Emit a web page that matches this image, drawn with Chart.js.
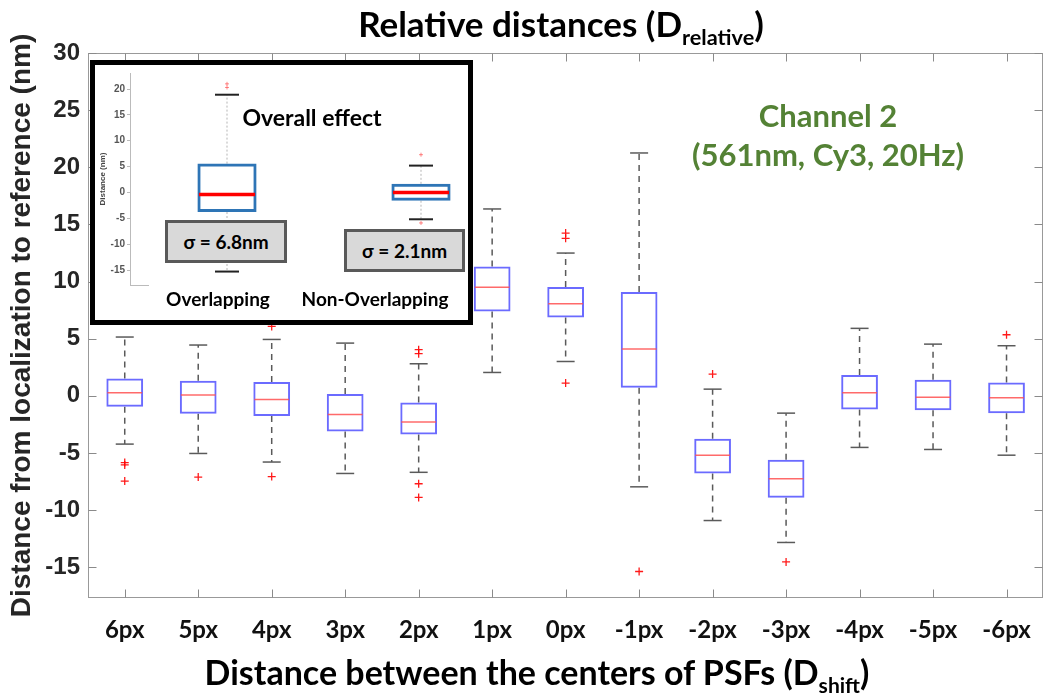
<!DOCTYPE html>
<html><head><meta charset="utf-8">
<script src="https://cdn.jsdelivr.net/npm/chart.js@4.4.1/dist/chart.umd.min.js"></script>
<style>
html,body{margin:0;padding:0;background:#fff;}
#wrap{position:relative;width:1049px;height:694px;overflow:hidden;background:#fff;}
#main{position:absolute;left:0;top:0;}
.txt{position:absolute;font-family:Lato,'Open Sans',sans-serif;font-weight:700;white-space:nowrap;transform:translate(-50%,-50%);line-height:1;color:#000;}
.txt sub{font-size:0.62em;vertical-align:-0.4em;line-height:0;}
#title{left:561px;top:23px;font-size:35px;}
#xtitle{left:537px;top:672px;font-size:34px;}
.green{color:#548235;font-size:31px;}
#inset{position:absolute;left:90px;top:60px;width:373px;height:255px;border:5px solid #000;background:#fff;overflow:hidden;}
#insetCanvas{position:absolute;left:0;top:0;}
.sig{position:absolute;background:#d9d9d9;border:3px solid #595959;box-sizing:border-box;display:flex;align-items:center;justify-content:center;font-family:Lato,sans-serif;font-weight:700;font-size:19px;color:#000;}
.itxt{position:absolute;font-family:Lato,sans-serif;font-weight:700;white-space:nowrap;transform:translate(-50%,-50%);line-height:1;color:#000;}
</style>
</head><body>
<div id="wrap">
  <canvas id="main" width="1049" height="694"></canvas>
  <div class="txt" id="title">Relative distances (D<sub>relative</sub>)</div>
  <div class="txt" id="xtitle">Distance between the centers of PSFs (D<sub>shift</sub>)</div>
  <div class="txt green" style="left:828px;top:115px;">Channel 2</div>
  <div class="txt green" style="left:828px;top:154px;">(561nm, Cy3, 20Hz)</div>
  <div id="inset">
    <canvas id="insetCanvas" width="430" height="255"></canvas>
    <div class="itxt" style="left:217px;top:52px;font-size:23px;">Overall effect</div>
    <div class="sig" style="left:70px;top:155px;width:122px;height:43px;">σ = 6.8nm</div>
    <div class="sig" style="left:249px;top:164px;width:121px;height:43px;">σ = 2.1nm</div>
    <div class="itxt" style="left:123px;top:233px;font-size:19px;">Overlapping</div>
    <div class="itxt" style="left:280px;top:233px;font-size:19px;">Non-Overlapping</div>
  </div>
</div>
<script>
// ---------- Main chart data ----------
const categories = ['6px','5px','4px','3px','2px','1px','0px','-1px','-2px','-3px','-4px','-5px','-6px'];
const q1Values     = [-0.96,-1.58,-1.78,-3.12,-3.40, 7.38, 6.86, 0.70, -6.80, -8.93,-1.20,-1.26,-1.52];
const medianValues = [ 0.26, 0.06,-0.32,-1.63,-2.30, 9.49, 8.06, 4.09, -5.20, -7.27, 0.26,-0.12,-0.17];
const q3Values     = [ 1.52, 1.31, 1.20, 0.15,-0.60,11.32, 9.52, 9.08, -3.77, -5.60, 1.81, 1.40, 1.17];
const lowerWhisker = [-4.23,-5.05,-5.80,-6.80,-6.70, 2.04, 3.00,-7.97,-10.92,-12.84,-4.52,-4.70,-5.20];
const upperWhisker = [ 5.14, 4.44, 4.93, 4.61, 2.80,16.35,12.49,21.25,  0.58, -1.52, 5.90, 4.52, 4.38];
const outlierValues = [[7.33,-5.85,-6.05,-7.47],[-7.12],[6.07,-7.07],[],[4.03,3.68,-7.7,-8.9],[],[14.24,13.78,1.11],[-15.38],[1.9],[-14.54],[],[],[5.34]];
const yTicks = [-15,-10,-5,0,5,10,15,20,25,30];
const yMin = -17.7, yMax = 30;

// ---------- Inset data ----------
const insetCategories = ['Overlapping','Non-Overlapping'];
const insetQ1 = [-3.78,-1.60];
const insetMedian = [-0.38,0.00];
const insetQ3 = [5.58,1.67];
const insetLower = [-15.3,-5.19];
const insetUpper = [18.9,5.19];
const insetOutliers = [[21.0,20.3],[7.3,-5.9]];
const insetTicks = [-15,-10,-5,0,5,10,15,20];
const insetMin = -17.9, insetMax = 23.1;

function seg(ctx,x1,y1,x2,y2){ctx.beginPath();ctx.moveTo(x1,y1);ctx.lineTo(x2,y2);ctx.stroke();}

function boxPlugin(cfg){
  return {
    id:'boxextras',
    beforeDatasetsDraw(chart){
      const ctx=chart.ctx, xs=chart.scales.x, ys=chart.scales.y, ca=chart.chartArea;
      ctx.save();
      if(cfg.frame){
        ctx.strokeStyle='#999'; ctx.lineWidth=1;
        const L=Math.round(ca.left)+0.5, R=Math.round(ca.right)-0.5, T=Math.round(ca.top)+0.5, B=Math.round(ca.bottom)-0.5;
        ctx.strokeRect(L,T,R-L,B-T);
        ctx.strokeStyle='#8a8a8a';
        ys.ticks.forEach(t=>{const y=Math.round(ys.getPixelForValue(t.value))+0.5; seg(ctx,L,y,L+8,y); seg(ctx,R,y,R-8,y);});
        cfg.labels.forEach((c,i)=>{const x=Math.round(xs.getPixelForValue(i))+0.5; seg(ctx,x,B,x,B-8); seg(ctx,x,T,x,T+8);});
      }
      if(cfg.shortBase){
        ctx.strokeStyle='#bbb'; ctx.lineWidth=1;
        seg(ctx,ca.left,Math.round(ca.bottom)+0.5,ca.left+19,Math.round(ca.bottom)+0.5);
      }
      const meta=chart.getDatasetMeta(0);
      cfg.lower.forEach((lo,i)=>{
        const cx=xs.getPixelForValue(i);
        const yLo=ys.getPixelForValue(lo), yHi=ys.getPixelForValue(cfg.upper[i]);
        const yQ1=ys.getPixelForValue(cfg.q1[i]), yQ3=ys.getPixelForValue(cfg.q3[i]);
        ctx.strokeStyle=cfg.whiskerColor; ctx.lineWidth=cfg.whiskerWidth; ctx.setLineDash(cfg.dash);
        seg(ctx,cx,yQ3,cx,yHi); seg(ctx,cx,yQ1,cx,yLo);
        ctx.setLineDash([]);
        ctx.strokeStyle=cfg.capColor; ctx.lineWidth=cfg.capWidth;
        const cw=cfg.capW;
        seg(ctx,cx-cw/2,yHi,cx+cw/2,yHi); seg(ctx,cx-cw/2,yLo,cx+cw/2,yLo);
      });
      ctx.restore();
    },
    afterDatasetsDraw(chart){
      const ctx=chart.ctx, xs=chart.scales.x, ys=chart.scales.y;
      const meta=chart.getDatasetMeta(0);
      ctx.save();
      ctx.strokeStyle=cfg.medianColor; ctx.lineWidth=cfg.medianWidth;
      cfg.median.forEach((m,i)=>{
        const cx=xs.getPixelForValue(i), w=meta.data[i].width, b=cfg.boxBorder;
        const y=ys.getPixelForValue(m);
        seg(ctx,cx-w/2+b/2,y,cx+w/2-b/2,y);
      });
      ctx.restore();
    }
  };
}

function outlierPoints(labels, arr){
  const pts=[];
  arr.forEach((list,i)=>list.forEach(v=>pts.push({x:labels[i],y:v})));
  return pts;
}

Chart.defaults.animation=false;

// ---------- Main chart ----------
new Chart(document.getElementById('main'),{
  type:'bar',
  data:{
    labels:categories,
    datasets:[
      {type:'bar',data:categories.map((c,i)=>[q1Values[i],q3Values[i]]),
       backgroundColor:'rgba(255,255,255,0)',borderColor:'rgba(70,70,255,0.8)',borderWidth:2,borderSkipped:false,
       barPercentage:0.5,categoryPercentage:1,order:2},
      {type:'line',data:outlierPoints(categories,outlierValues),showLine:false,
       pointStyle:'cross',pointRadius:4,pointBorderColor:'rgba(255,0,0,0.9)',pointBorderWidth:1.3,order:1}
    ]
  },
  options:{
    responsive:false,
    animation:false,
    layout:{padding:{top:53,right:3,left:0,bottom:0}},
    plugins:{legend:{display:false},tooltip:{enabled:false}},
    scales:{
      x:{
        grid:{display:false,drawTicks:false},border:{display:false},
        ticks:{font:{family:'Lato',weight:'bold',size:24},color:'#111',padding:18,maxRotation:0,autoSkip:false},
        afterFit:s=>{s.height=96;}
      },
      y:{
        min:yMin,max:yMax,
        grid:{display:false,drawTicks:false},border:{display:false},
        afterBuildTicks:s=>{s.ticks=yTicks.map(v=>({value:v}));},
        ticks:{font:{family:'Liberation Sans',weight:'bold',size:24},color:'#262626',padding:8},
        title:{display:true,text:'Distance from localization to reference (nm)',font:{family:'Liberation Sans',weight:'bold',size:28},color:'#262626',padding:{top:5,bottom:0}},
        afterFit:s=>{s.width=88;}
      }
    }
  },
  plugins:[boxPlugin({frame:true,labels:categories,q1:q1Values,q3:q3Values,median:medianValues,lower:lowerWhisker,upper:upperWhisker,
    whiskerColor:'#5a5a5a',whiskerWidth:1.5,dash:[6,5],capColor:'#5a5a5a',capWidth:1.5,capW:18,
    medianColor:'rgba(255,80,80,0.85)',medianWidth:1.5,boxBorder:2})]
});

// ---------- Inset chart ----------
new Chart(document.getElementById('insetCanvas'),{
  type:'bar',
  data:{
    labels:insetCategories,
    datasets:[
      {type:'bar',data:insetCategories.map((c,i)=>[insetQ1[i],insetQ3[i]]),
       backgroundColor:'rgba(255,255,255,0)',borderColor:'#2e75b6',borderWidth:3,borderSkipped:false,
       barPercentage:0.305,categoryPercentage:1,order:2},
      {type:'line',data:outlierPoints(insetCategories,insetOutliers),showLine:false,
       pointStyle:'cross',pointRadius:2,pointBorderColor:'rgba(255,60,60,0.6)',pointBorderWidth:1,order:1}
    ]
  },
  options:{
    responsive:false,
    animation:false,
    layout:{padding:{top:7,right:7,left:0,bottom:0}},
    plugins:{legend:{display:false},tooltip:{enabled:false}},
    scales:{
      x:{display:true,grid:{display:false,drawTicks:false},border:{display:false},ticks:{display:false},
         afterFit:s=>{s.height=35;}},
      y:{
        min:insetMin,max:insetMax,
        grid:{drawOnChartArea:false,drawTicks:true,tickLength:3,color:'#bbb'},
        border:{display:true,color:'#bbb'},
        afterBuildTicks:s=>{s.ticks=insetTicks.map(v=>({value:v}));},
        ticks:{font:{family:'Liberation Sans',weight:'bold',size:10},color:'#555',padding:2},
        title:{display:true,text:'Distance (nm)',font:{family:'Liberation Sans',weight:'bold',size:8},color:'#444',padding:{top:3,bottom:0}},
        afterFit:s=>{s.width=35;}
      }
    }
  },
  plugins:[boxPlugin({frame:false,shortBase:true,labels:insetCategories,q1:insetQ1,q3:insetQ3,median:insetMedian,lower:insetLower,upper:insetUpper,
    whiskerColor:'#b5b5b5',whiskerWidth:1,dash:[2,2],capColor:'#222',capWidth:2,capW:24,
    medianColor:'#ff0000',medianWidth:3.5,boxBorder:3})]
});
</script>
</body></html>
